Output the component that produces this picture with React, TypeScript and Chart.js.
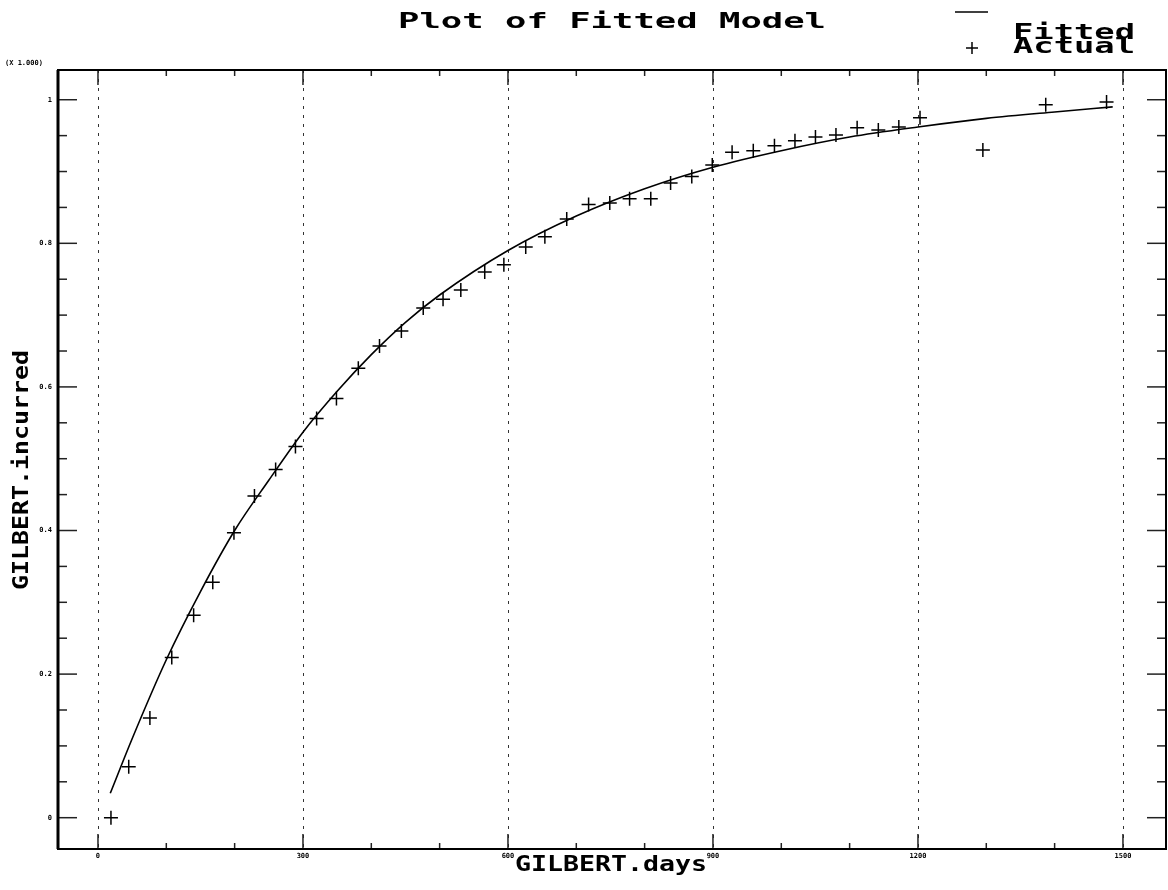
import React, { useEffect, useRef } from "react";
import { Chart, registerables } from "chart.js";

Chart.register(...registerables);

// Actual observations (days, incurred in thousands)
const daysActual = [19, 45, 76, 108, 140, 168, 199, 229, 260, 289, 320, 349, 381, 412, 444, 476, 505, 531, 566, 594, 626, 654, 686, 718, 749, 778, 809, 838, 869, 899, 928, 959, 990, 1020, 1050, 1080, 1111, 1142, 1172, 1203, 1295, 1387, 1476];
const incurredActual = [0.0, 0.071, 0.139, 0.223, 0.282, 0.328, 0.397, 0.448, 0.485, 0.517, 0.556, 0.584, 0.626, 0.657, 0.678, 0.71, 0.722, 0.735, 0.76, 0.77, 0.795, 0.809, 0.834, 0.854, 0.856, 0.862, 0.862, 0.884, 0.893, 0.909, 0.927, 0.929, 0.936, 0.943, 0.948, 0.951, 0.961, 0.958, 0.962, 0.975, 0.93, 0.993, 0.997];

// Fitted model curve
const daysFitted = [18, 50, 100, 150, 200, 250, 300, 350, 400, 450, 500, 600, 700, 800, 900, 1000, 1100, 1200, 1300, 1400, 1485];
const incurredFitted = [0.034, 0.11, 0.22, 0.315, 0.4, 0.47, 0.537, 0.594, 0.645, 0.69, 0.728, 0.79, 0.838, 0.876, 0.906, 0.929, 0.948, 0.962, 0.974, 0.983, 0.99];

// Axis ticks
const xMajorTicks = [0, 300, 600, 900, 1200, 1500];
const xMajorLabels = ["0", "300", "600", "900", "1200", "1500"];
const xMinorTicks = [100, 200, 400, 500, 700, 800, 1000, 1100, 1300, 1400];
const yMajorTicks = [0, 0.2, 0.4, 0.6, 0.8, 1.0];
const yMajorLabels = ["0", "0.2", "0.4", "0.6", "0.8", "1"];
const yMinorTicks = [0.05, 0.1, 0.15, 0.25, 0.3, 0.35, 0.45, 0.5, 0.55, 0.65, 0.7, 0.75, 0.85, 0.9, 0.95];

const MONO = '"DejaVu Sans Mono", "Liberation Mono", monospace';

function drawStretched(
  ctx: CanvasRenderingContext2D,
  text: string,
  x: number,
  y: number,
  size: number,
  width: number,
  align: "left" | "center",
  rotate = 0
) {
  ctx.save();
  ctx.font = `bold ${size}px ${MONO}`;
  const w = ctx.measureText(text).width;
  const sx = width / w;
  ctx.translate(x, y);
  if (rotate) ctx.rotate(rotate);
  ctx.scale(sx, 1);
  ctx.textAlign = align;
  ctx.textBaseline = "alphabetic";
  ctx.fillStyle = "#000";
  ctx.fillText(text, 0, 0);
  ctx.restore();
}

const decorPlugin = {
  id: "decor",
  beforeDatasetsDraw(chart: any) {
    const { ctx, chartArea, scales } = chart;
    const xs = scales.x;
    ctx.save();
    ctx.strokeStyle = "#333";
    ctx.lineWidth = 1;
    ctx.setLineDash([3, 6]);
    for (const v of xMajorTicks) {
      const px = Math.round(xs.getPixelForValue(v)) + 0.5;
      ctx.beginPath();
      ctx.moveTo(px, chartArea.top);
      ctx.lineTo(px, chartArea.bottom);
      ctx.stroke();
    }
    ctx.restore();
  },
  afterDraw(chart: any) {
    const { ctx, chartArea, scales } = chart;
    const xs = scales.x;
    const ys = scales.y;
    const { left, right, top, bottom } = chartArea;
    ctx.save();
    ctx.setLineDash([]);
    // ticks
    ctx.strokeStyle = "#222";
    ctx.lineWidth = 1.5;
    const tick = (x1: number, y1: number, x2: number, y2: number) => {
      ctx.beginPath();
      ctx.moveTo(x1, y1);
      ctx.lineTo(x2, y2);
      ctx.stroke();
    };
    for (const v of xMajorTicks) {
      const px = xs.getPixelForValue(v);
      tick(px, bottom, px, bottom - 15);
      tick(px, top, px, top + 15);
    }
    for (const v of xMinorTicks) {
      const px = xs.getPixelForValue(v);
      tick(px, bottom, px, bottom - 6);
      tick(px, top, px, top + 6);
    }
    for (const v of yMajorTicks) {
      const py = ys.getPixelForValue(v);
      tick(left, py, left + 19, py);
      tick(right, py, right - 19, py);
    }
    for (const v of yMinorTicks) {
      const py = ys.getPixelForValue(v);
      tick(left, py, left + 9, py);
      tick(right, py, right - 9, py);
    }
    // frame
    ctx.strokeStyle = "#000";
    ctx.lineWidth = 2;
    ctx.strokeRect(left, top, right - left, bottom - top);
    ctx.lineWidth = 3;
    tick(left, top, left, bottom);

    // tick labels
    ctx.fillStyle = "#000";
    ctx.font = `bold 7px ${MONO}`;
    ctx.textAlign = "center";
    ctx.textBaseline = "top";
    xMajorTicks.forEach((v, i) => {
      ctx.fillText(xMajorLabels[i], xs.getPixelForValue(v), bottom + 4);
    });
    ctx.textAlign = "right";
    ctx.textBaseline = "middle";
    yMajorTicks.forEach((v, i) => {
      ctx.fillText(yMajorLabels[i], left - 6, ys.getPixelForValue(v));
    });
    ctx.textAlign = "left";
    ctx.textBaseline = "middle";
    ctx.fillText("(X 1.000)", 5, 63);

    // titles
    drawStretched(ctx, "Plot of Fitted Model", 612, 28, 22, 428, "center");
    drawStretched(ctx, "GILBERT.days", 611, 871, 21, 192, "center");
    drawStretched(ctx, "GILBERT.incurred", 28, 470, 21, 240, "center", -Math.PI / 2);

    // legend
    ctx.strokeStyle = "#000";
    ctx.lineWidth = 1.5;
    tick(955, 12, 988, 12);
    tick(966, 48, 978, 48);
    tick(972, 42, 972, 54);
    drawStretched(ctx, "Fitted", 1013, 39, 21, 122, "left");
    drawStretched(ctx, "Actual", 1013, 53, 21, 122, "left");
    ctx.restore();
  },
};

export default function App() {
  const canvasRef = useRef<HTMLCanvasElement | null>(null);

  useEffect(() => {
    document.body.style.margin = "0";
    const canvas = canvasRef.current;
    if (!canvas) return;
    const fitted = daysFitted.map((d, i) => ({ x: d, y: incurredFitted[i] }));
    const actual = daysActual.map((d, i) => ({ x: d, y: incurredActual[i] }));
    const chart = new Chart(canvas, {
      type: "scatter",
      data: {
        datasets: [
          {
            label: "Fitted",
            data: fitted,
            showLine: true,
            borderColor: "#000",
            borderWidth: 1.6,
            pointRadius: 0,
            cubicInterpolationMode: "monotone",
            fill: false,
          },
          {
            label: "Actual",
            data: actual,
            showLine: false,
            pointStyle: "cross",
            pointRadius: 7,
            borderColor: "#000",
            backgroundColor: "#000",
            borderWidth: 1.5,
          },
        ],
      },
      options: {
        animation: false,
        responsive: false,
        maintainAspectRatio: false,
        layout: { autoPadding: false, padding: { left: 58, right: 2, top: 70, bottom: 41 } },
        scales: {
          x: { type: "linear", min: -58.5, max: 1563, display: false },
          y: { type: "linear", min: -0.0436, max: 1.0414, display: false },
        },
        plugins: {
          legend: { display: false },
          tooltip: { enabled: false },
          title: { display: false },
        },
      },
      plugins: [decorPlugin],
    } as any);
    return () => chart.destroy();
  }, []);

  return (
    <div style={{ width: 1168, height: 890, background: "#fff" }}>
      <canvas ref={canvasRef} width={1168} height={890} style={{ display: "block" }} />
    </div>
  );
}
